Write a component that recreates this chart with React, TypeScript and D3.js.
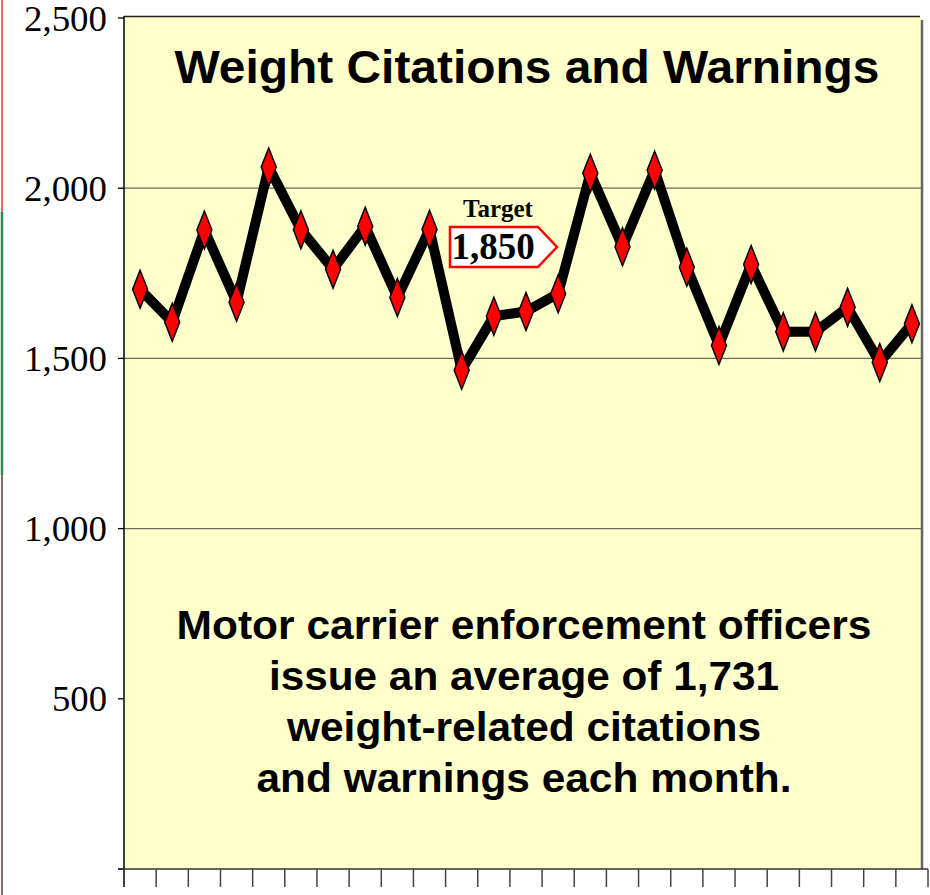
import * as d3 from "d3";
import * as React from "react";

// monthly counts
const months = [
  "1", "2", "3", "4", "5", "6", "7", "8", "9", "10", "11", "12", "13",
  "14", "15", "16", "17", "18", "19", "20", "21", "22", "23", "24", "25",
];
const counts = [
  1703, 1606, 1877, 1665, 2062, 1878, 1762, 1888, 1679, 1879, 1465, 1624, 1638,
  1690, 2044, 1828, 2053, 1768, 1538, 1776, 1578, 1578, 1650, 1488, 1602,
];
const yTicks = [500, 1000, 1500, 2000, 2500];
const gridValues = [1000, 1500, 2000];
const targetValue = "1,850";
const titleText = "Weight Citations and Warnings";
const noteLines = [
  "Motor carrier enforcement officers",
  "issue an average of 1,731",
  "weight-related citations",
  "and warnings each month.",
];
// measured widths of the text lines in the picture
const noteWidths = [695, 510, 474, 535];

const W = 930;
const H = 895;
const margin = { top: 17, left: 124, plotRight: 922, axisRight: 928, bottom: 869 };

export default function App() {
  const x = d3
    .scaleBand<string>()
    .domain(months)
    .range([margin.left, margin.axisRight]);
  const y = d3.scaleLinear().domain([0, 2500]).range([margin.bottom, margin.top + 1]);

  const line = d3
    .line<number>()
    .x((d, i) => (x(months[i]) as number) + x.bandwidth() / 2)
    .y((d) => y(d));

  const sans = "'Liberation Sans', Arial, sans-serif";
  const serif = "'Liberation Serif', 'Times New Roman', serif";

  const dw = 7.5,
    dh = 19;
  const diamond = `M0,${-dh}L${dw},0L0,${dh}L${-dw},0Z`;

  // target callout box
  const bx = 450,
    by = 227,
    bw = 88,
    bh = 40,
    tip = 19;
  const boxPath = `M${bx},${by}H${bx + bw}L${bx + bw + tip},${by + bh / 2}L${bx + bw},${by + bh}H${bx}Z`;

  return (
    <svg
      width={W}
      height={H}
      style={{ position: "absolute", left: 0, top: 0, background: "#fff" }}
    >
      {/* edge of neighbouring slide, clipped */}
      <line x1={2} x2={2} y1={0} y2={212} stroke="#ff6666" strokeWidth={2} />
      <line x1={2} x2={2} y1={212} y2={475} stroke="#2e8b57" strokeWidth={2.5} />
      <line x1={2} x2={2} y1={475} y2={895} stroke="#8a6a6a" strokeWidth={2} />

      {/* plot background */}
      <rect
        x={margin.left}
        y={margin.top}
        width={margin.plotRight - margin.left}
        height={margin.bottom - margin.top}
        fill="#ffffcc"
      />
      <line x1={margin.left} x2={margin.plotRight - 2} y1={16.5} y2={16.5} stroke="#222" strokeWidth={1.5} />
      <line x1={margin.plotRight} x2={margin.plotRight} y1={20} y2={margin.bottom} stroke="#666" strokeWidth={2.5} />

      {gridValues.map((v) => (
        <line key={v} x1={margin.left} x2={margin.plotRight} y1={y(v)} y2={y(v)} stroke="#6b6b5a" strokeWidth={1.3} />
      ))}

      {/* y axis */}
      <line x1={margin.left} x2={margin.left} y1={16} y2={887} stroke="#000" strokeWidth={1.5} />
      {[0, ...yTicks].map((v) => (
        <line key={v} x1={118} x2={margin.left} y1={y(v)} y2={y(v)} stroke="#000" strokeWidth={1.3} />
      ))}
      {yTicks.map((v) => {
        const label = d3.format(",")(v);
        return (
          <text
            key={v}
            x={107}
            y={y(v)}
            dy="0.35em"
            textAnchor="end"
            fontFamily={serif}
            fontSize={36}
            textLength={label.length > 3 ? 83 : 55}
            lengthAdjust="spacingAndGlyphs"
          >
            {label}
          </text>
        );
      })}

      {/* x axis */}
      <line x1={118} x2={margin.axisRight} y1={margin.bottom} y2={margin.bottom} stroke="#333" strokeWidth={1.5} />
      {months.map((m) => (
        <line
          key={m}
          x1={(x(m) as number) + x.bandwidth()}
          x2={(x(m) as number) + x.bandwidth()}
          y1={margin.bottom}
          y2={887}
          stroke="#444"
          strokeWidth={1.5}
        />
      ))}

      {/* title */}
      <text
        x={527}
        y={83}
        textAnchor="middle"
        fontFamily={sans}
        fontWeight="bold"
        fontSize={46}
        textLength={705}
        lengthAdjust="spacingAndGlyphs"
      >
        {titleText}
      </text>

      {/* series */}
      <path d={line(counts) || ""} fill="none" stroke="#000" strokeWidth={10} strokeLinejoin="miter" />
      {counts.map((v, i) => (
        <path
          key={i}
          d={diamond}
          transform={`translate(${(x(months[i]) as number) + x.bandwidth() / 2},${y(v)})`}
          fill="#ff0000"
          stroke="#000"
          strokeWidth={1.5}
        />
      ))}

      {/* target callout */}
      <text x={498} y={217} textAnchor="middle" fontFamily={serif} fontWeight="bold" fontSize={25}>
        Target
      </text>
      <path d={boxPath} fill="#fff" stroke="#ff0000" strokeWidth={2.5} />
      <text x={493} y={259} textAnchor="middle" fontFamily={serif} fontWeight="bold" fontSize={37}>
        {targetValue}
      </text>

      {/* note */}
      {noteLines.map((t, i) => (
        <text
          key={i}
          x={524}
          y={639 + i * 51}
          textAnchor="middle"
          fontFamily={sans}
          fontWeight="bold"
          fontSize={41}
          textLength={noteWidths[i]}
          lengthAdjust="spacingAndGlyphs"
        >
          {t}
        </text>
      ))}
    </svg>
  );
}
